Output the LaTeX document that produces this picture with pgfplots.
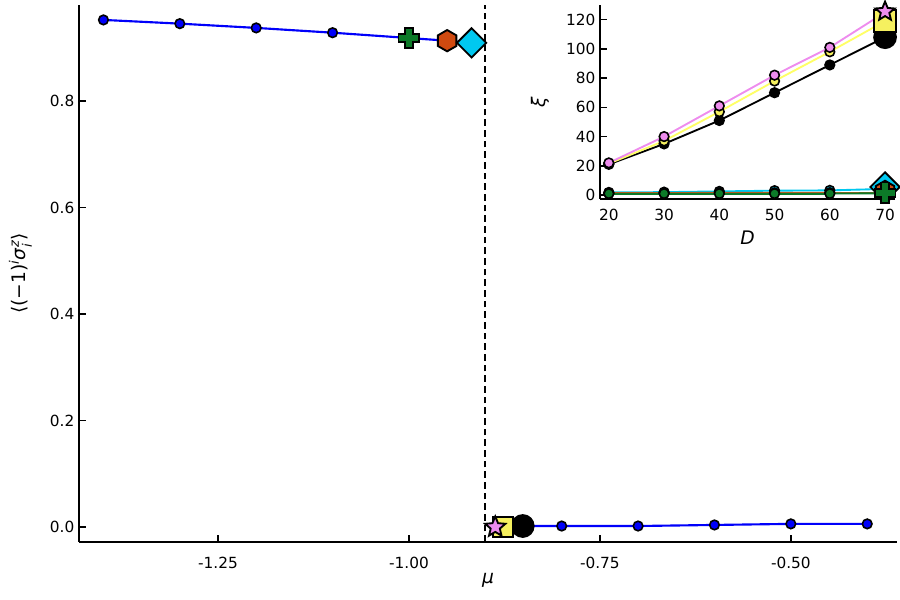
\documentclass[border=0pt]{standalone}
\usepackage{fontspec}
\setmainfont{DejaVu Sans}
\usepackage{amsmath}
\usepackage{pgfplots}
\pgfplotsset{compat=1.18}

\definecolor{myblue}{RGB}{0,0,250}
\definecolor{mygreen}{RGB}{12,122,40}
\definecolor{myorange}{RGB}{208,74,16}
\definecolor{mycyan}{RGB}{0,200,240}
\definecolor{myyellow}{RGB}{245,240,95}
\definecolor{myyline}{RGB}{255,255,102}
\definecolor{mypink}{RGB}{238,140,238}
\definecolor{mybrown}{RGB}{180,90,30}

\pgfdeclareplotmark{fcross}{%
  \pgfpathmoveto{\pgfqpoint{-0.38\pgfplotmarksize}{\pgfplotmarksize}}%
  \pgfpathlineto{\pgfqpoint{0.38\pgfplotmarksize}{\pgfplotmarksize}}%
  \pgfpathlineto{\pgfqpoint{0.38\pgfplotmarksize}{0.38\pgfplotmarksize}}%
  \pgfpathlineto{\pgfqpoint{\pgfplotmarksize}{0.38\pgfplotmarksize}}%
  \pgfpathlineto{\pgfqpoint{\pgfplotmarksize}{-0.38\pgfplotmarksize}}%
  \pgfpathlineto{\pgfqpoint{0.38\pgfplotmarksize}{-0.38\pgfplotmarksize}}%
  \pgfpathlineto{\pgfqpoint{0.38\pgfplotmarksize}{-\pgfplotmarksize}}%
  \pgfpathlineto{\pgfqpoint{-0.38\pgfplotmarksize}{-\pgfplotmarksize}}%
  \pgfpathlineto{\pgfqpoint{-0.38\pgfplotmarksize}{-0.38\pgfplotmarksize}}%
  \pgfpathlineto{\pgfqpoint{-\pgfplotmarksize}{-0.38\pgfplotmarksize}}%
  \pgfpathlineto{\pgfqpoint{-\pgfplotmarksize}{0.38\pgfplotmarksize}}%
  \pgfpathlineto{\pgfqpoint{-0.38\pgfplotmarksize}{0.38\pgfplotmarksize}}%
  \pgfpathclose\pgfusepathqfillstroke}
\pgfdeclareplotmark{hexa}{%
  \pgfpathmoveto{\pgfpointpolar{90}{\pgfplotmarksize}}%
  \pgfpathlineto{\pgfpointpolar{150}{\pgfplotmarksize}}%
  \pgfpathlineto{\pgfpointpolar{210}{\pgfplotmarksize}}%
  \pgfpathlineto{\pgfpointpolar{270}{\pgfplotmarksize}}%
  \pgfpathlineto{\pgfpointpolar{330}{\pgfplotmarksize}}%
  \pgfpathlineto{\pgfpointpolar{30}{\pgfplotmarksize}}%
  \pgfpathclose\pgfusepathqfillstroke}
\pgfdeclareplotmark{dia}{%
  \pgfpathmoveto{\pgfqpoint{0pt}{\pgfplotmarksize}}%
  \pgfpathlineto{\pgfqpoint{\pgfplotmarksize}{0pt}}%
  \pgfpathlineto{\pgfqpoint{0pt}{-\pgfplotmarksize}}%
  \pgfpathlineto{\pgfqpoint{-\pgfplotmarksize}{0pt}}%
  \pgfpathclose\pgfusepathqfillstroke}
\pgfdeclareplotmark{fstar}{%
  \pgfpathmoveto{\pgfpointpolar{90}{\pgfplotmarksize}}%
  \pgfpathlineto{\pgfpointpolar{126}{0.45\pgfplotmarksize}}%
  \pgfpathlineto{\pgfpointpolar{162}{\pgfplotmarksize}}%
  \pgfpathlineto{\pgfpointpolar{198}{0.45\pgfplotmarksize}}%
  \pgfpathlineto{\pgfpointpolar{234}{\pgfplotmarksize}}%
  \pgfpathlineto{\pgfpointpolar{270}{0.45\pgfplotmarksize}}%
  \pgfpathlineto{\pgfpointpolar{306}{\pgfplotmarksize}}%
  \pgfpathlineto{\pgfpointpolar{342}{0.45\pgfplotmarksize}}%
  \pgfpathlineto{\pgfpointpolar{18}{\pgfplotmarksize}}%
  \pgfpathlineto{\pgfpointpolar{54}{0.45\pgfplotmarksize}}%
  \pgfpathclose\pgfusepathqfillstroke}

\pgfplotsset{
  base/.style={
    scale only axis, clip=false,
    axis lines*=left, tick align=inside,
    axis line style={black, line width=1.5pt},
    major tick style={black, line width=1.1pt},
    major tick length=5pt,
    /pgf/number format/assume math mode=true,
    tick label style={font=\fontsize{11.5}{13}\selectfont},
    label style={font=\fontsize{14}{16}\selectfont},
  },
  smallpt/.style={mark=*, mark size=3.6pt, mark options={solid, draw=black, line width=1.2pt, fill=#1}},
  bigpt/.style={only marks, mark options={solid, draw=black, line width=1.4pt, fill=#1}},
}

\begin{document}
\begin{tikzpicture}
\useasboundingbox (0pt,0pt) rectangle (675pt,450pt);
\begin{axis}[base,
  at={(59.25pt,43.5pt)}, anchor=south west,
  width=613.5pt, height=402.75pt,
  xmin=-1.432, xmax=-0.361, ymin=-0.028, ymax=0.98,
  xtick={-1.25,-1.0,-0.75,-0.5},
  xticklabels={-1.25,-1.00,-0.75,-0.50},
  ytick={0,0.2,0.4,0.6,0.8},
  yticklabels={0.0,0.2,0.4,0.6,0.8},
  xticklabel style={yshift=-8pt},
  xlabel={\itshape μ},
  ylabel={⟨(−1)$^{\text{\itshape i}}$\textit{σ}$^{\text{\itshape z}}_{\text{\itshape i}}$⟩},
  xlabel style={at={([yshift=-28.5pt]axis description cs:0.5,0)}, anchor=center},
  ylabel style={at={([xshift=-44pt]axis description cs:0,0.5)}, anchor=center},
]
\addplot[black, line width=1.4pt, dash pattern=on 5pt off 3pt] coordinates {(-0.9,-0.028) (-0.9,0.98)};
\addplot[myblue, line width=1.6pt] coordinates {(-1.4,0.952)(-1.3,0.945)(-1.2,0.937)(-1.1,0.928)(-1.0,0.918)(-0.95,0.913)(-0.92,0.909)};
\addplot[myblue, line width=1.6pt] coordinates {(-0.85,0.002)(-0.8,0.002)(-0.7,0.002)(-0.6,0.004)(-0.5,0.006)(-0.4,0.006)};
\addplot[only marks, smallpt=myblue] coordinates {(-1.4,0.952)(-1.3,0.945)(-1.2,0.937)(-1.1,0.928)};
\addplot[only marks, smallpt=myblue] coordinates {(-0.8,0.002)(-0.7,0.002)(-0.6,0.004)(-0.5,0.006)(-0.4,0.006)};
\addplot[bigpt=mygreen, mark=fcross, mark size=7.8pt] coordinates {(-1.0,0.918)};
\addplot[bigpt=myorange, mark=hexa, mark size=8pt] coordinates {(-0.95,0.913)};
\addplot[bigpt=mycyan, mark=dia, mark size=11pt] coordinates {(-0.918,0.909)};
\addplot[bigpt=black, mark=*, mark size=8.2pt] coordinates {(-0.851,0.002)};
\addplot[bigpt=myyellow, mark=square*, mark size=7.5pt] coordinates {(-0.877,0.0)};
\addplot[bigpt=mypink, mark=fstar, mark size=8pt] coordinates {(-0.887,0.0)};
\end{axis}

\begin{axis}[base,
  at={(450pt,300.75pt)}, anchor=south west,
  width=221.25pt, height=145.5pt,
  axis background/.style={fill=white},
  xmin=18.4, xmax=71.8, ymin=-2.7, ymax=130,
  xtick={20,30,40,50,60,70},
  ytick={0,20,40,60,80,100,120},
  xticklabel style={yshift=-4pt},
  xlabel={\itshape D},
  ylabel={\itshape ξ},
  xlabel style={at={([yshift=-29pt]axis description cs:0.5,0)}, anchor=center},
  ylabel style={at={([xshift=-45pt]axis description cs:0,0.5)}, anchor=center},
]
\addplot[black, line width=1.4pt, smallpt=black] coordinates {(20,21)(30,35)(40,51)(50,70)(60,89)};
\addplot[black, line width=1.4pt] coordinates {(60,89)(70,108)};
\addplot[myyline, line width=1.4pt, smallpt=myyellow] coordinates {(20,21.5)(30,37)(40,57)(50,78)(60,98)};
\addplot[myyline, line width=1.4pt] coordinates {(60,98)(70,119)};
\addplot[mypink, line width=1.4pt, smallpt=mypink] coordinates {(20,22)(30,40)(40,61)(50,82)(60,101)};
\addplot[mypink, line width=1.4pt] coordinates {(60,101)(70,125)};
\addplot[mycyan, line width=1.4pt, smallpt=mycyan] coordinates {(20,1.8)(30,2)(40,2.5)(50,3)(60,3.2)};
\addplot[mycyan, line width=1.4pt] coordinates {(60,3.2)(70,4.2)};
\addplot[mybrown, line width=1.4pt, smallpt=myorange] coordinates {(20,1.3)(30,1.4)(40,1.5)(50,1.5)(60,1.6)};
\addplot[mybrown, line width=1.4pt] coordinates {(60,1.6)(70,1.6)};
\addplot[mygreen, line width=1.4pt, smallpt=mygreen] coordinates {(20,1)(30,1)(40,1)(50,1)(60,1)};
\addplot[mygreen, line width=1.4pt] coordinates {(60,1)(70,1.2)};
\addplot[bigpt=black, mark=*, mark size=8.2pt] coordinates {(70,108)};
\addplot[bigpt=myyellow, mark=square*, mark size=8pt] coordinates {(70,119)};
\addplot[bigpt=mypink, mark=fstar, mark size=7.5pt] coordinates {(70,125.5)};
\addplot[bigpt=mycyan, mark=dia, mark size=11pt] coordinates {(70,5.5)};
\addplot[bigpt=myorange, mark=hexa, mark size=8pt] coordinates {(70,2.5)};
\addplot[bigpt=mygreen, mark=fcross, mark size=7.8pt] coordinates {(70,1.5)};
\end{axis}
\end{tikzpicture}
\end{document}
